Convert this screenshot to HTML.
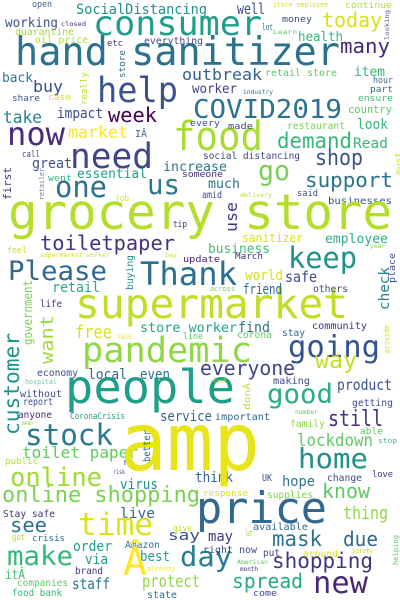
<!DOCTYPE html>
<html><head><meta charset="utf-8"><style>
html,body{margin:0;padding:0;background:#fff;}
svg{display:block;}
text{font-family:"DejaVu Sans Mono","Liberation Mono",monospace;}
</style></head><body>
<svg id="cloud" width="400" height="600" viewBox="0 0 400 600" xmlns="http://www.w3.org/2000/svg">
<rect width="400" height="600" fill="#fff"/>
</svg>
<script>
// Word list and frequency-driven font sizes
const words = ["open","SocialDistancing","consumer","working","closed","quarantine","oil price","etc","everything","hand sanitizer","help","back","buy","share","case","take","impact","week","now","market","IÂ","need","food","great","call","essential","increase","one","us","went","job","someone","every","worker","outbreak","COVID2019",
"store employee","continue","well","today","money","lot","Learn","health","many","retail store","item","industry","hour","part","ensure","country","made","restaurant","look","demand","Read","social distancing","shop","go","much","support","amid","delivery","said","businesses",
"grocery store","tip","toiletpaper","feel","supermarket worker","pay","Please","Thank","update","retail","life","free","sale","store worker","line","pandemic","supermarket","economy","local","even","hospital","without","people",
"stock","report","anyone","CoronaCrisis","mean","service","toilet paper","public","re","risk","online","virus","online shopping","think","Stay safe","live","time","see","say","give","got","crisis","order","Amazon","make","via","best","Â","itÂ","brand","already","companies","staff","protect","food bank","state","day",
"sanitizer","employee","business","year","keep","March","world","safe","friend","others","across","find","community","corona","stay","going","way","everyone","product","making","last","good",
"getting","number","still","important","family","able","lockdown","stop","home","UK","hope","change","love","know","response","supplies","price","thing","available","let","may","mask","due","right now","put","around","safety","American","shopping","month","spread","new","come","amp",
"store","really","first","retailer","looking","must","buying","government","want","customer","better","use","place","check","provide","donÂ","helping"];
const sizes = [9,14,34,13,6,10,10,9,10,39,35,13,16,9,9,17,14,20,32,17,10,35,40,14,9,13,13,29,28,9,9,9,9,13,16,26,
7,9,15,20,9,9,6,13,20,10,13,6,9,9,9,11,9,10,14,21,14,9.5,22,28,13,20,10,6,9,10,
49,9,20,9,6,6,27,32,9,14,10,18,8,13,9,35,41,10,14,14,7,10,46,
29,10,9.5,9,6,14,16,9,9,6,26,14,22,14,10,14,31,20,14,9,9,9,14,10,27,14,14,38,13,10,7,10,15,16.5,10,10,28,
12,13,13,6,29,9,14,15,14,10,7,14,10,10,10,30,23,20,15,10,6,27,
10,6,22,10,10,9,17,7,28,10,14,10,9,20,9,10,44,18,10,9,14,21,20,10,10,10,7,6,21,6,20,30,9,80,
9,9,11,7,6,8,10,12,18,21,10,16,9,14,7,9,7];
const colors = ["#3e5a8a","#21918c","#1f9e89","#3b528b","#472d7b","#a0da39","#b5de2b","#472d7b","#3e4989","#2c728e","#3b528b","#2a788e","#3e4a89","#39568c","#dde318","#26828e","#3e4a89","#440154","#472c7a","#fde725","#33638d","#414487","#a8db34","#3b528b","#3e4a89","#1f9e89","#2a788e","#2c728e","#2a788e","#35b779","#dde318","#472d7b","#3b528b","#414487","#355f8d","#2c728e",
"#d8e219","#addc30","#3e4a89","#d8e219","#3e4a89","#2c728e","#5ec962","#35b779","#482878","#5ec962","#35b779","#2c728e","#31688e","#2c728e","#3bbb75","#5ec962","#3e4a89","#7ad151","#35b779","#35b779","#35b779","#3e4a89","#3b528b","#7ad151","#2c728e","#2c728e","#3e4a89","#c2df23","#3e4a89","#3b528b",
"#b5de2b","#482878","#46337e","#c2df23","#d8e219","#d8e219","#31688e","#2a6f8e","#482878","#25ab82","#46337e","#d8e219","#fde725","#20a486","#5ec962","#8fd744","#bddf26","#3e4a89","#31688e","#2c728e","#78c0b0","#3e4a89","#1f9e89",
"#2a788e","#3e4a89","#482878","#1f9e89","#8fd744","#31688e","#5ec962","#addc30","#3e4a89","#3e4a89","#a0da39","#21918c","#7ad151","#33638d","#46337e","#31688e","#dde318","#2c728e","#3b528b","#c2df23","#addc30","#2c728e","#1f9e89","#2c728e","#35b779","#1f9e89","#1f9e89","#fde725","#44bf70","#46337e","#fde725","#5ec962","#2c728e","#8fd744","#35b779","#2c728e","#277f8e",
"#d8e219","#29af7f","#44bf70","#8fd744","#21918c","#482878","#d8e219","#3e4a89","#31688e","#3e4a89","#7ad151","#2c728e","#46337e","#5ec962","#31688e","#33538d","#c2df23","#414487","#3b528b","#3e4a89","#c2df23","#29af7f",
"#3e4a89","#5ec962","#46337e","#31688e","#8fd744","#5ec962","#5ec962","#35b779","#21918c","#3e4a89","#2c728e","#3e4a89","#46337e","#5ec962","#d8e219","#7ad151","#31688e","#8fd744","#31688e","#a0da39","#46337e","#2c728e","#31688e","#3e4a89","#3e4a89","#d8e219","#c2df23","#5ec962","#46337e","#472d7b","#25ab82","#482878","#3e4a89","#e7e419",
"#31688e","#bddf26","#46337e","#6b7d9a","#54628a","#c8e020","#21918c","#7ad151","#a0da39","#21918c","#31688e","#46337e","#3e4a89","#26828e","#c2df23","#c2df23","#5ec962"];
// Layout: [x, baselineY, length, rotated]
const layout = [[32,7,20,0],[76,14,131,0],[93,35,169,0],[5,27,53,0],[61,26,25,0],[15,35,59,0],[35,43,53,0],[107,46,16,0],[144,44,59,0],[15,65,325,0],[97,102,81,0],[2,82,31,0],[33,92,30,0],[12,101,28,0],[48,100,23,0],[3,123,39,0],[57,118,46,0],[108,122,49,0],[7,145,58,0],[68,138,60,0],[135,137,12,0],[70,168,83,0],[173,150,90,0],[32,168,40,0],[22,157,18,0],[77,178,70,0],[163,171,64,0],[55,197,52,0],[147,194,33,0],[48,181,24,0],[115,201,14,0],[182,177,41,0],[190,126,30,0],[192,93,45,0],[182,80,80,0],[193,118,149,0],
[273,7,55,0],[345,8,47,0],[237,14,28,0],[322,27,60,0],[282,22,30,0],[262,30,11,0],[273,34,24,0],[298,41,45,0],[340,53,50,0],[265,76,72,0],[354,76,31,0],[243,94,30,0],[373,83,20,0],[370,92,23,0],[358,101,35,0],[348,113,44,0],[228,129,25,0],[287,129,58,0],[357,129,31,0],[277,148,75,0],[353,148,35,0],[203,159,97,0],[315,165,48,0],[258,180,32,0],[208,188,32,0],[305,187,88,0],[202,198,20,0],[240,197,32,0],[297,196,21,0],[328,204,64,0],
[8,229,384,0],[173,227,14,0],[40,250,135,0],[7,253,20,0],[40,257,70,0],[165,257,12,0],[8,280,99,0],[140,285,97,0],[183,262,37,0],[52,292,48,0],[40,307,22,0],[75,338,37,0],[117,339,15,0],[140,332,97,0],[183,339,20,0],[82,362,170,0],[75,318,273,0],[37,376,41,0],[88,379,39,0],[140,379,30,0],[25,384,32,0],[20,397,42,0],[65,403,170,0],
[25,445,88,0],[23,405,30,0],[18,418,34,0],[70,419,55,0],[22,425,11,0],[160,421,52,0],[22,458,116,0],[5,464,33,0],[123,465,10,0],[113,474,12,0],[10,486,92,0],[120,489,38,0],[2,502,198,0],[195,482,38,0],[3,517,52,0],[120,518,35,0],[78,535,75,0],[10,532,37,0],[168,540,32,0],[173,531,19,0],[12,540,13,0],[32,541,33,0],[73,551,39,0],[125,548,35,0],[7,565,66,0],[85,564,23,0],[140,561,30,0],[123,575,24,0],[5,579,20,0],[75,574,28,0],[147,571,28,0],[17,586,51,0],[72,589,38,0],[142,587,58,0],[12,596,50,0],[147,598,30,0],[180,566,52,0],
[242,242,61,0],[325,243,63,0],[208,253,62,0],[370,248,15,0],[288,268,69,0],[235,259,28,0],[245,280,38,0],[285,282,32,0],[243,294,39,0],[313,292,35,0],[210,291,25,0],[238,332,32,0],[312,329,55,0],[237,338,35,0],[282,336,23,0],[288,357,92,0],[315,368,42,0],[200,375,95,0],[337,390,55,0],[273,384,37,0],[213,383,14,0],[267,403,66,0],
[352,406,41,0],[295,414,23,0],[328,426,55,0],[215,420,55,0],[290,427,35,0],[360,434,23,0],[297,446,76,0],[378,443,19,0],[298,468,70,0],[262,481,10,0],[282,486,33,0],[327,481,35,0],[372,477,21,0],[322,498,48,0],[203,496,45,0],[267,498,46,0],[196,523,131,0],[343,519,45,0],[253,530,55,0],[245,536,7,0],[208,541,25,0],[272,546,50,0],[343,546,35,0],[203,553,54,0],[263,556,17,0],[303,557,35,0],[352,553,21,0],[237,564,31,0],[272,568,101,0],[240,571,18,0],[232,588,71,0],[313,593,55,0],[253,596,24,0],[120,470,140,0],
[125,78,28,1],[87,105,33,1],[11,200,33,1],[44,200,32,1],[389,40,30,1],[401,175,23,1],[133,290,35,1],[32,345,65,1],[53,364,49,1],[19,435,102,1],[150,462,32,1],[237,232,30,1],[395,283,30,1],[389,310,43,1],[389,353,28,1],[250,410,27,1],[398,565,30,1]];

const svg = document.getElementById('cloud');
const NS = 'http://www.w3.org/2000/svg';
for (let i = 0; i < words.length; i++) {
  const L = layout[i];
  const t = document.createElementNS(NS, 'text');
  
  
  t.setAttribute('font-size', sizes[i]);
  t.setAttribute('fill', colors[i]);
  t.setAttribute('textLength', L[2]);
  t.setAttribute('lengthAdjust', 'spacingAndGlyphs');
  if (L[3]) {
    t.setAttribute('x', 0);
    t.setAttribute('y', 0);
    t.setAttribute('transform', 'translate(' + L[0] + ',' + L[1] + ') rotate(-90)');
  } else {
    t.setAttribute('x', L[0]);
    t.setAttribute('y', L[1]);
  }
  t.textContent = words[i];
  svg.appendChild(t);
}
</script>
</body></html>
